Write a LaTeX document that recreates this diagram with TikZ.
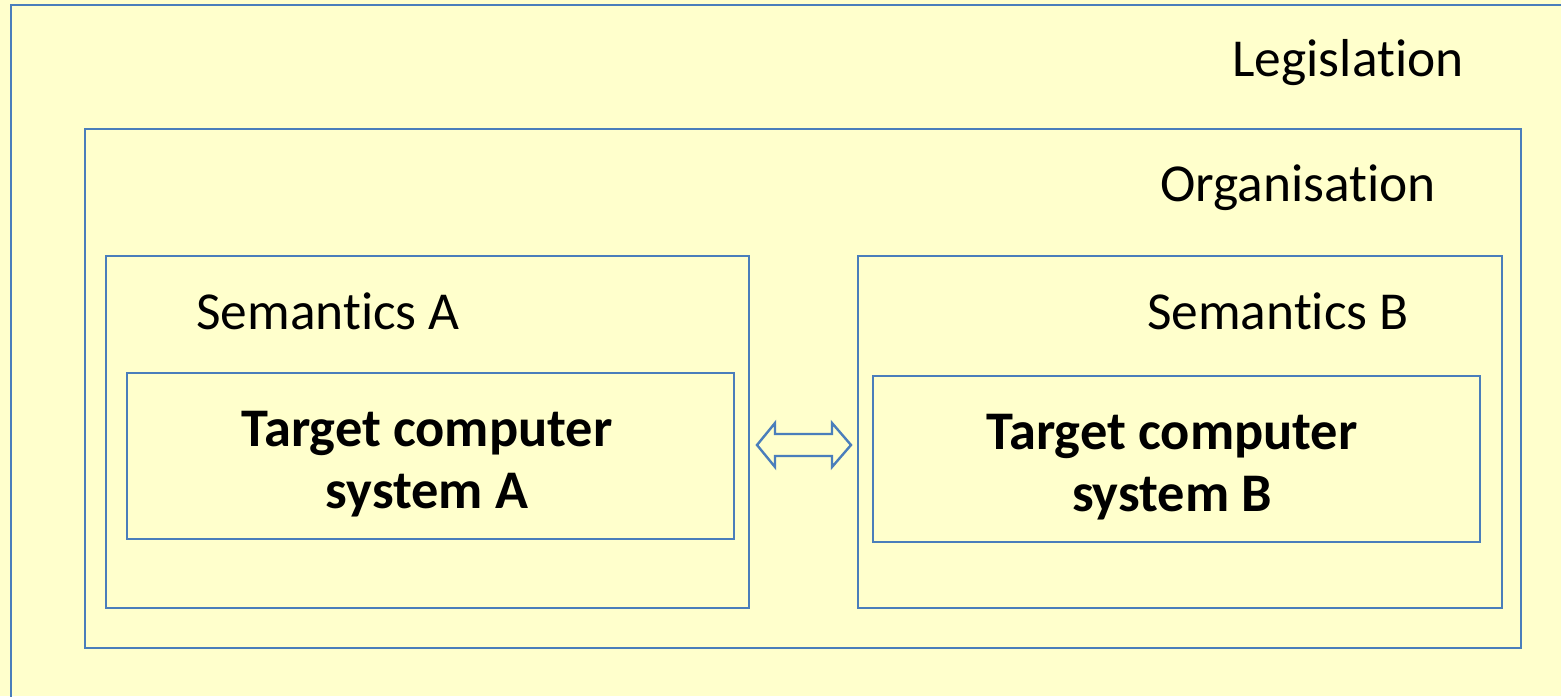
\documentclass[tikz,border=0pt]{standalone}
\usepackage{fontspec}
\setmainfont{Carlito}[Ligatures=NoCommon]
\definecolor{paper}{HTML}{FFFFCC}
\definecolor{edge}{HTML}{4A7EBB}
\tikzset{
  frame/.style={draw=edge, line width=1.1pt},
  lbl/.style={font=\fontsize{26.7}{32}\selectfont, inner sep=0pt, anchor=base},
  sys/.style={font=\fontsize{27.2}{31}\selectfont\bfseries, align=center, inner sep=0pt},
}
\begin{document}
\begin{tikzpicture}[x=0.5pt,y=-0.5pt]
  \useasboundingbox (0,0) rectangle (1561,696);
  \fill[paper] (0,0) rectangle (1561,696);
  % nested frames
  \draw[frame] (11,720) -- (11,5) -- (1580,5);
  \draw[frame] (85,129) rectangle (1521,648);
  \draw[frame] (106,256) rectangle (749,608);
  \draw[frame] (127,373) rectangle (734,539);
  \draw[frame] (858,256) rectangle (1502,608);
  \draw[frame] (873,376) rectangle (1480,542);
  % labels (placed by baseline)
  \node[lbl] (leg) at (1348,76) {Legislation};
  \node[lbl] (org) at (1298,201) {Organisation};
  \node[lbl] (semA) at (328,329) {Semantics A};
  \node[lbl] (semB) at (1278,329) {Semantics B};
  \node[sys] (sysA) at (427,464) {Target computer\\system A};
  \node[sys] (sysB) at (1172,467) {Target computer\\system B};
  % two-way exchange arrow
  \draw[frame, fill=paper, line width=1.2pt, line join=miter]
    (757,445) -- (775,423) -- (775,434) -- (832,434) -- (832,423) -- (851,445)
    -- (832,467) -- (832,456) -- (775,456) -- (775,467) -- cycle;
\end{tikzpicture}
\end{document}
